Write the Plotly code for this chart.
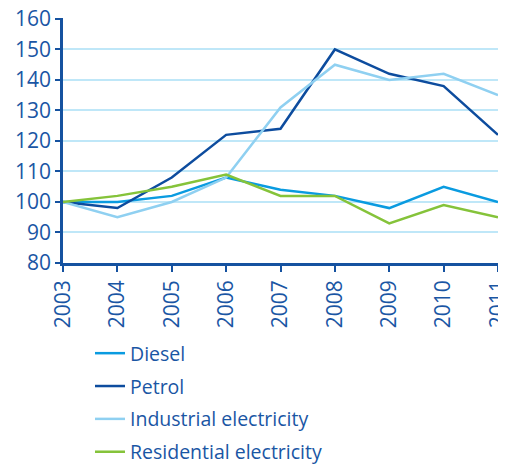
import plotly.graph_objects as go

years = ["2003", "2004", "2005", "2006", "2007", "2008", "2009", "2010", "2011"]
diesel = [100, 100, 102, 108, 104, 102, 98, 105, 100]
petrol = [100, 98, 108, 122, 124, 150, 142, 138, 122]
industrial = [100, 95, 100, 108, 131, 145, 140, 142, 135]
residential = [100, 102, 105, 109, 102, 102, 93, 99, 95]
yticks = [80, 90, 100, 110, 120, 130, 140, 150, 160]

series = [
    ("Diesel", diesel, "#0a9be0"),
    ("Petrol", petrol, "#0d4c9e"),
    ("Industrial electricity", industrial, "#8fd0f1"),
    ("Residential electricity", residential, "#85c33a"),
]

TXT = "#1a56a4"
FONT = "Open Sans"

fig = go.Figure()
for i, (name, vals, col) in enumerate(series):
    fig.add_trace(go.Scatter(x=years, y=vals, name=name, mode="lines",
                             line=dict(color=col, width=2.5), legendgroup=str(i)))

# page has an 8px body margin; compensate in figure margins
fig.update_layout(
    width=506, height=466,
    margin=dict(l=55, r=16, t=10, b=211, autoexpand=False),
    paper_bgcolor="white", plot_bgcolor="white",
    font=dict(family=FONT, color=TXT, size=18),
    showlegend=True,
    legend=dict(x=(82 - 55) / 435, y=-(326 - 255) / 245,
                xanchor="left", yanchor="top", orientation="v",
                font=dict(size=19.5, color=TXT, family=FONT),
                tracegroupgap=4.5, itemwidth=30, bgcolor="rgba(0,0,0,0)"),
    xaxis=dict(type="category", range=[0, 8], showgrid=False,
               tickmode="array", tickvals=years, ticktext=years,
               showline=True, linecolor="#1552a0", linewidth=2.5,
               ticks="outside", ticklen=6, tickwidth=2, tickcolor="#1552a0",
               tickangle=-90, tickfont=dict(size=21, color=TXT, family=FONT),
               ticklabeloverflow="allow", zeroline=False),
    yaxis=dict(range=[80, 160.3], tickmode="array", tickvals=yticks,
               showgrid=True, gridcolor="#bfe7f8", gridwidth=1.5,
               showline=True, linecolor="#1552a0", linewidth=2.5,
               ticks="outside", ticklen=5, tickwidth=2, tickcolor="#1552a0",
               tickfont=dict(size=21, color=TXT, family=FONT),
               ticklabeloverflow="allow", zeroline=False),
)
fig.write_html("out.html")
